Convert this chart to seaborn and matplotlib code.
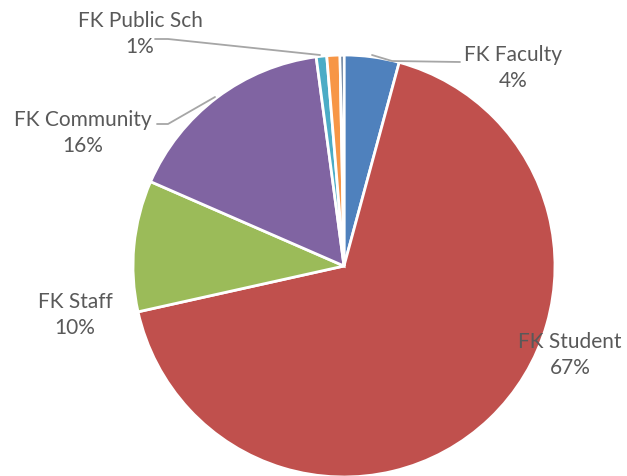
import matplotlib
matplotlib.use("Agg")
import matplotlib.pyplot as plt
import seaborn as sns

# =====================================================
# DATA
# =====================================================

groups = ["FK Faculty", "FK Student", "FK Staff", "FK Community",
          "FK Public Sch", "Other A", "Other B"]
shares = [4.2, 67.1, 10.0, 16.3, 0.8, 1.0, 0.3]
pct_labels = ["4%", "67%", "10%", "16%", "1%", "", ""]
colors = ["#4F81BD", "#C0504D", "#9BBB59", "#8064A2",
          "#4BACC6", "#F79646", "#2C4D75"]

# =====================================================
# PLOT
# =====================================================

sns.set_theme(style="white")
plt.rcParams["font.family"] = ["Lato", "DejaVu Sans"]

W, H = 627, 476
fig = plt.figure(figsize=(W / 100, H / 100), dpi=100)
ax = fig.add_axes([0, 0, 1, 1])

cx, cy, r = 344, H - 266, 211
ax.pie(shares, colors=colors, startangle=90, counterclock=False,
       center=(cx, cy), radius=r,
       wedgeprops=dict(edgecolor="white", linewidth=2))
ax.set_xlim(0, W)
ax.set_ylim(0, H)
ax.set_aspect("equal")
ax.set_axis_off()

txt_color = "#595959"
line_color = "#A6A6A6"

# label positions in pixel coords (x, y of name line)
label_pos = {
    "FK Faculty": (513, 55),
    "FK Student": (570, 342),
    "FK Staff": (75, 302),
    "FK Community": (83, 120),
    "FK Public Sch": (140, 21),
}
for name, pct in zip(groups, pct_labels):
    if name not in label_pos:
        continue
    x, y = label_pos[name]
    ax.text(x, H - y, name, ha="center", va="center", fontsize=15, color=txt_color)
    ax.text(x, H - y - 26, pct, ha="center", va="center", fontsize=15, color=txt_color)

# leader lines
ax.plot([372, 392, 460], [H - 55, H - 61, H - 62], color=line_color, lw=1.3)
ax.plot([215, 168, 157], [H - 97, H - 124, H - 124], color=line_color, lw=1.3)
ax.plot([155, 168, 320], [H - 39, H - 39, H - 55], color=line_color, lw=1.3)

fig.savefig("out.png", dpi=100, facecolor="white")
